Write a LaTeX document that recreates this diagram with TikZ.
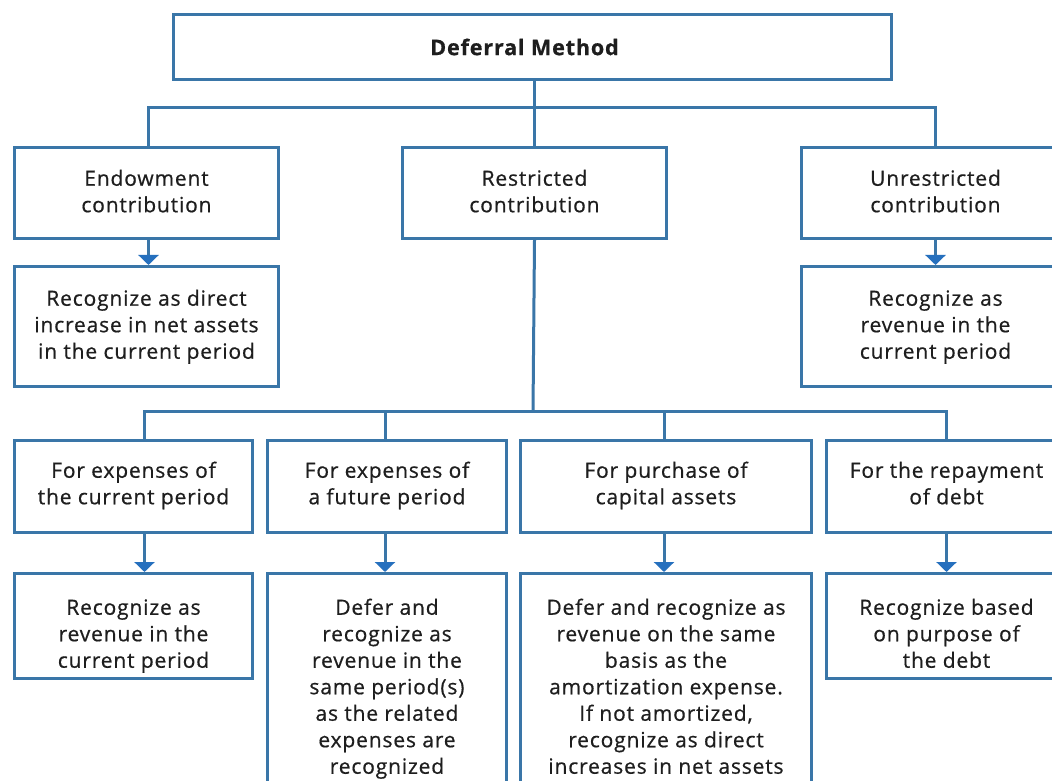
\documentclass[tikz,border=0pt]{standalone}
\usepackage{fontspec}
\setmainfont{Open Sans}[LetterSpace=4.0,FakeBold=0.6]
\usetikzlibrary{arrows.meta,positioning}
\definecolor{frame}{RGB}{58,118,168}
\definecolor{tipblue}{RGB}{38,112,190}
\definecolor{ink}{RGB}{30,30,30}
\begin{document}
\begin{tikzpicture}[x=1pt,y=1pt,
  box/.style={draw=frame, line width=3pt, rectangle, inner sep=0pt,
    anchor=north west, fill=white},
  txt/.style={align=center, inner sep=0pt, text=ink,
    font=\fontsize{21}{26.5}\selectfont},
  link/.style={draw=frame, line width=3pt},
  flow/.style={link, -{Triangle[width=20pt,length=10pt,color=tipblue]}}
]
\fill[white] (0,0) rectangle (1052,780);
\useasboundingbox (0,0) rectangle (1052,780);
\begin{scope}
\clip (0,0) rectangle (1052,780);

% title
\node[box, minimum width=718pt, minimum height=65pt] (top) at (172,767) {};
\node[font=\fontsize{21.5}{24}\selectfont\bfseries, text=ink, inner sep=0pt]
  (top-t) at ([xshift=-8pt]top.center) {Deferral Method};

% kinds of contribution
\node[box, minimum width=264pt, minimum height=91pt] (endow) at (13,634) {};
\node[box, minimum width=264pt, minimum height=91pt] (restr) at (401,634) {};
\node[box, minimum width=268pt, minimum height=91pt] (unres) at (800,634) {};

% their treatment
\node[box, minimum width=264pt, minimum height=120pt] (recA) at (13,515) {};
\node[box, minimum width=268pt, minimum height=120pt] (recB) at (800,515) {};

% purposes of restricted contributions
\node[box, minimum width=238pt, minimum height=92pt] (f1) at (13,341) {};
\node[box, minimum width=239pt, minimum height=92pt] (f2) at (266,341) {};
\node[box, minimum width=291pt, minimum height=92pt] (f3) at (519,341) {};
\node[box, minimum width=240pt, minimum height=92pt] (f4) at (825,341) {};

% recognition for each purpose
\node[box, minimum width=238pt, minimum height=105pt] (g1) at (13,208) {};
\node[box, minimum width=239pt, minimum height=240pt] (g2) at (266,208) {};
\node[box, minimum width=291pt, minimum height=240pt] (g3) at (519,208) {};
\node[box, minimum width=240pt, minimum height=105pt] (g4) at (825,208) {};

% texts, hung from the top edge of each box
\node[txt, below=21pt of endow.north] (endow-t) {\strut Endowment\\contribution};
\node[txt, below=21pt of restr.north] (restr-t) {\strut Restricted\\contribution};
\node[txt, below=21pt of unres.north] (unres-t) {\strut Unrestricted\\contribution};
\node[txt, below=22pt of recA.north] (recA-t) {\strut Recognize as direct\\increase in net assets\\in the current period};
\node[txt, below=22pt of recB.north] (recB-t) {\strut Recognize as\\revenue in the\\current period};
\node[txt, below=20pt of f1.north] (f1-t) {\strut For expenses of\\the current period};
\node[txt, below=20pt of f2.north] (f2-t) {\strut For expenses of\\a future period};
\node[txt, below=20pt of f3.north] (f3-t) {\strut For purchase of\\capital assets};
\node[txt, below=20pt of f4.north] (f4-t) {\strut For the repayment\\of debt};
\node[txt, below=24pt of g1.north] (g1-t) {\strut Recognize as\\revenue in the\\current period};
\node[txt, below=24pt of g2.north] (g2-t) {\strut Defer and\\recognize as\\revenue in the\\same period(s)\\as the related\\expenses are\\recognized};
\node[txt, below=24pt of g3.north] (g3-t) {\strut Defer and recognize as\\revenue on the same\\basis as the\\amortization expense.\\If not amortized,\\recognize as direct\\increases in net assets};
\node[txt, below=24pt of g4.north] (g4-t) {\strut Recognize based\\on purpose of\\the debt};

% connectors from the title
\coordinate (bus1) at (533,672);
\draw[link] ([xshift=2pt]top.south) -- (restr.north);
\draw[link] ([xshift=2pt]endow.north) |- (bus1) -| (unres.north);
\draw[flow] ([xshift=2pt]endow.south) -- ([xshift=2pt]recA.north);
\draw[flow] (unres.south) -- (recB.north);

% connectors from the restricted contribution
\coordinate (bus2) at (533,368);
\draw[link] (restr.south) -- (bus2);
\draw[link] ([xshift=11pt]f1.north) |- (bus2) -| (f4.north);
\draw[link] ([xshift=-2pt]f2.north) -- ([xshift=-2pt]f2.north |- bus2);
\draw[link] ([xshift=-2pt]f3.north) -- ([xshift=-2pt]f3.north |- bus2);
\draw[flow] ([xshift=11pt]f1.south) -- ([xshift=11pt]g1.north);
\draw[flow] ([xshift=-2pt]f2.south) -- ([xshift=-2pt]g2.north);
\draw[flow] ([xshift=-2pt]f3.south) -- ([xshift=-2pt]g3.north);
\draw[flow] (f4.south) -- (g4.north);
\end{scope}
\end{tikzpicture}
\end{document}
